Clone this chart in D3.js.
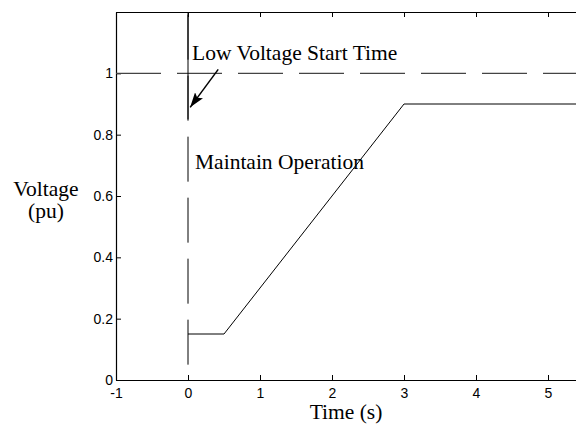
<!DOCTYPE html>
<html>
<head>
<meta charset="utf-8">
<script src="https://cdn.jsdelivr.net/npm/d3@7"></script>
<style>
  body { margin: 0; background: #fff; }
  svg { display: block; }
  .tick-label { font-family: "Liberation Sans", Arial, sans-serif; font-size: 14px; fill: #000; }
  .serif { font-family: "Liberation Serif", "Times New Roman", serif; font-size: 21.5px; fill: #000; }
</style>
</head>
<body>
<div id="chart"></div>
<script>
// voltage profile (time in s, voltage in pu)
var timeVals = [0, 0.5, 3, 5.5];
var voltVals = [0.15, 0.15, 0.9, 0.9];

// reference level and start time marker
var refLevel = 1;
var startTime = 0;
var markerBottom = 0.05;
var markerSolidFrom = 0.85;

var xTicks = [-1, 0, 1, 2, 3, 4, 5];
var yTicks = [0, 0.2, 0.4, 0.6, 0.8, 1];

var W = 576, H = 425;
var mLeft = 116, mRight = 584, mTop = 12, mBottom = 380;

var svg = d3.select("#chart").append("svg").attr("width", W).attr("height", H);

var x = d3.scaleLinear().domain([-1, 5.5]).range([mLeft, mRight]);
var y = d3.scaleLinear().domain([0, 1.2]).range([mBottom, mTop]);

// axes box (MATLAB style, ticks inside)
var bottomAxis = d3.axisBottom(x).tickValues(xTicks).tickSizeInner(-5).tickSizeOuter(0).tickPadding(8)
    .tickFormat(function (d) { return d; });
var topAxis = d3.axisTop(x).tickValues(xTicks).tickSizeInner(-5).tickSizeOuter(0).tickFormat("");
var leftAxis = d3.axisLeft(y).tickValues(yTicks).tickSizeInner(-5).tickSizeOuter(0).tickPadding(3)
    .tickFormat(function (d) { return d; });

function styleAxis(g) {
    g.select(".domain").attr("stroke", "#000").attr("stroke-width", 1.2);
    g.selectAll(".tick line").attr("stroke", "#000");
    g.selectAll(".tick text").attr("class", "tick-label");
}

svg.append("g").attr("transform", "translate(0," + mBottom + ")").call(bottomAxis).call(styleAxis);
svg.append("g").attr("transform", "translate(0," + mTop + ")").call(topAxis).call(styleAxis);
svg.append("g").attr("transform", "translate(" + mLeft + ",0)").call(leftAxis).call(styleAxis);

// dashed reference line at 1 pu
svg.append("line")
    .attr("x1", x(-1)).attr("x2", x(5.5))
    .attr("y1", y(refLevel)).attr("y2", y(refLevel))
    .attr("stroke", "#444").attr("stroke-width", 1.2)
    .attr("stroke-dasharray", "45,16");

// vertical start-time marker: dashed, drawn upwards, plus solid top part
svg.append("line")
    .attr("x1", x(startTime)).attr("x2", x(startTime))
    .attr("y1", y(markerBottom)).attr("y2", y(1.2))
    .attr("stroke", "#000").attr("stroke-width", 1)
    .attr("stroke-dasharray", "45,16");
svg.append("line")
    .attr("x1", x(startTime)).attr("x2", x(startTime))
    .attr("y1", y(markerSolidFrom)).attr("y2", y(1.2))
    .attr("stroke", "#000").attr("stroke-width", 1);

// voltage curve
var pts = timeVals.map(function (t, i) { return [t, voltVals[i]]; });
var line = d3.line().x(function (d) { return x(d[0]); }).y(function (d) { return y(d[1]); });
svg.append("path").datum(pts)
    .attr("d", line)
    .attr("fill", "none")
    .attr("stroke", "#000")
    .attr("stroke-width", 1);

// arrow
svg.append("defs").append("marker")
    .attr("id", "arrowhead")
    .attr("viewBox", "0 0 15 10")
    .attr("refX", 15).attr("refY", 5)
    .attr("markerWidth", 15).attr("markerHeight", 10)
    .attr("markerUnits", "userSpaceOnUse")
    .attr("orient", "auto")
    .append("path").attr("d", "M0,0 L15,5 L0,10 L3,5 z").attr("fill", "#000");

svg.append("line")
    .attr("x1", x(0.42)).attr("y1", y(1.013))
    .attr("x2", x(0.03)).attr("y2", y(0.889))
    .attr("stroke", "#000").attr("stroke-width", 1.5)
    .attr("marker-end", "url(#arrowhead)");

// annotations
svg.append("text").attr("class", "serif").attr("x", 192).attr("y", 60).text("Low Voltage Start Time");
svg.append("text").attr("class", "serif").attr("x", 195).attr("y", 169).text("Maintain Operation");

// axis titles
svg.append("text").attr("class", "serif").attr("x", 46).attr("y", 196)
    .attr("text-anchor", "middle").text("Voltage");
svg.append("text").attr("class", "serif").attr("x", 46).attr("y", 218)
    .attr("text-anchor", "middle").text("(pu)");
svg.append("text").attr("class", "serif").attr("x", 346).attr("y", 419)
    .attr("text-anchor", "middle").text("Time (s)");
</script>
</body>
</html>
